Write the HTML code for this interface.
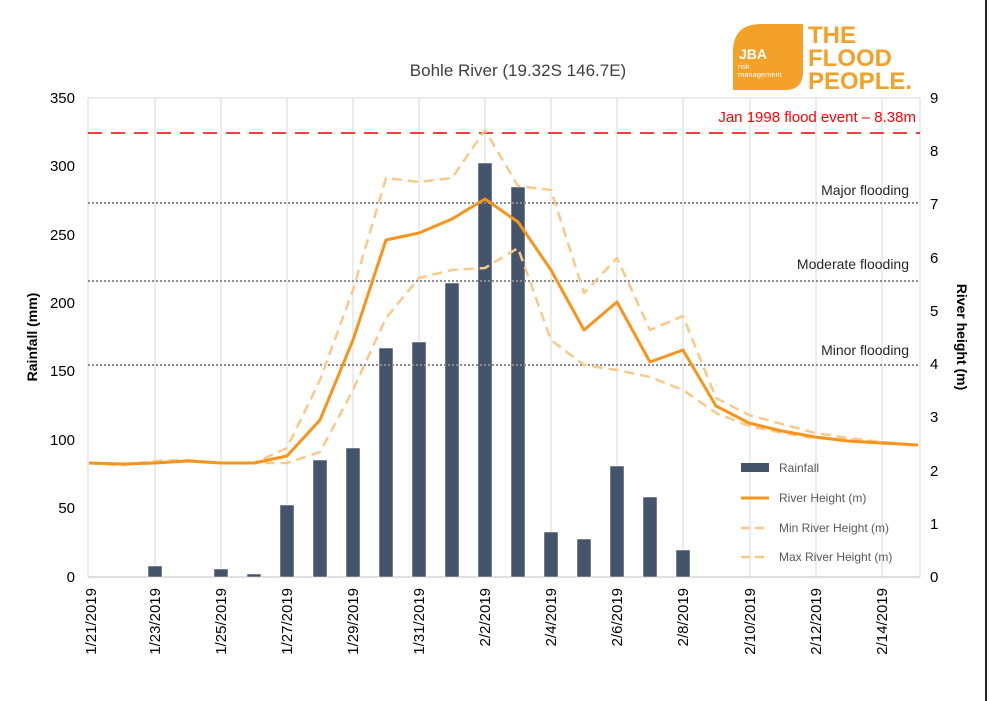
<!DOCTYPE html>
<html><head><meta charset="utf-8"><style>
body{margin:0;background:#fff;}
svg{display:block;font-family:"Liberation Sans",sans-serif;}
</style></head><body>
<svg width="990" height="701" viewBox="0 0 990 701">
<rect x="0" y="0" width="990" height="701" fill="#fff"/>
<line x1="986" y1="0" x2="986" y2="701" stroke="#222" stroke-width="2"/>
<!-- logo -->
<path d="M733 90 V52 Q733 24 761 24 H803 V72 Q803 90 785 90 Z" fill="#f4a12a"/>
<text x="739" y="59" font-size="14" font-weight="bold" fill="#fff">JBA</text>
<text x="738" y="69" font-size="7.5" fill="#fff">risk</text>
<text x="738" y="77" font-size="7.5" fill="#fff">management</text>
<g font-size="24" font-weight="bold" fill="#f4a12a">
<text x="808" y="43">THE</text>
<text x="808" y="66">FLOOD</text>
<text x="808" y="89">PEOPLE.</text>
</g>
<text x="518" y="76" font-size="17" fill="#404040" text-anchor="middle">Bohle River (19.32S 146.7E)</text>
<!-- grid -->
<g stroke="#d9d9d9" stroke-width="1">
<line x1="88" y1="98" x2="920" y2="98"/>
<line x1="155" y1="98" x2="155" y2="577"/><line x1="221" y1="98" x2="221" y2="577"/>
<line x1="287" y1="98" x2="287" y2="577"/><line x1="353" y1="98" x2="353" y2="577"/>
<line x1="419" y1="98" x2="419" y2="577"/><line x1="485" y1="98" x2="485" y2="577"/>
<line x1="551" y1="98" x2="551" y2="577"/><line x1="617" y1="98" x2="617" y2="577"/>
<line x1="683" y1="98" x2="683" y2="577"/><line x1="750" y1="98" x2="750" y2="577"/>
<line x1="816" y1="98" x2="816" y2="577"/><line x1="882" y1="98" x2="882" y2="577"/>
<line x1="920" y1="98" x2="920" y2="577"/>
<line x1="88" y1="98" x2="88" y2="577"/>
</g>
<line x1="88" y1="577" x2="920" y2="577" stroke="#bfbfbf"/>
<!-- left ticks -->
<g font-size="15" fill="#000" text-anchor="end">
<text x="75" y="103">350</text><text x="75" y="171">300</text><text x="75" y="240">250</text>
<text x="75" y="308">200</text><text x="75" y="376">150</text><text x="75" y="445">100</text>
<text x="75" y="513">50</text><text x="75" y="582">0</text>
</g>
<g font-size="15" fill="#000">
<text x="930" y="103">9</text><text x="930" y="156">8</text><text x="930" y="209">7</text>
<text x="930" y="263">6</text><text x="930" y="316">5</text><text x="930" y="369">4</text>
<text x="930" y="422">3</text><text x="930" y="476">2</text><text x="930" y="529">1</text>
<text x="930" y="582">0</text>
</g>
<text transform="translate(37,337) rotate(-90)" font-size="14" font-weight="bold" text-anchor="middle">Rainfall (mm)</text>
<text transform="translate(957,337) rotate(90)" font-size="14" font-weight="bold" text-anchor="middle">River height (m)</text>
<!-- x labels -->
<g font-size="15" text-anchor="end">
<text transform="translate(96,588) rotate(-90)">1/21/2019</text>
<text transform="translate(160,588) rotate(-90)">1/23/2019</text>
<text transform="translate(226,588) rotate(-90)">1/25/2019</text>
<text transform="translate(292,588) rotate(-90)">1/27/2019</text>
<text transform="translate(358,588) rotate(-90)">1/29/2019</text>
<text transform="translate(424,588) rotate(-90)">1/31/2019</text>
<text transform="translate(490,588) rotate(-90)">2/2/2019</text>
<text transform="translate(556,588) rotate(-90)">2/4/2019</text>
<text transform="translate(622,588) rotate(-90)">2/6/2019</text>
<text transform="translate(688,588) rotate(-90)">2/8/2019</text>
<text transform="translate(755,588) rotate(-90)">2/10/2019</text>
<text transform="translate(821,588) rotate(-90)">2/12/2019</text>
<text transform="translate(887,588) rotate(-90)">2/14/2019</text>
</g>
<!-- bars -->
<g fill="#44546a" stroke="#fff" stroke-width="0.5">
<rect x="148" y="566" width="14" height="11"/>
<rect x="214" y="569" width="14" height="8"/>
<rect x="247" y="574" width="14" height="3"/>
<rect x="280" y="505" width="14" height="72"/>
<rect x="313" y="460" width="14" height="117"/>
<rect x="346" y="448" width="14" height="129"/>
<rect x="379" y="348" width="14" height="229"/>
<rect x="412" y="342" width="14" height="235"/>
<rect x="445" y="283" width="14" height="294"/>
<rect x="478" y="163" width="14" height="414"/>
<rect x="511" y="187" width="14" height="390"/>
<rect x="544" y="532" width="14" height="45"/>
<rect x="577" y="539" width="14" height="38"/>
<rect x="610" y="466" width="14" height="111"/>
<rect x="643" y="497" width="14" height="80"/>
<rect x="676" y="550" width="14" height="27"/>
</g>
<!-- flood lines -->
<line x1="88" y1="133" x2="920" y2="133" stroke="#ff3b3b" stroke-width="2" stroke-dasharray="14,9"/>
<text x="916" y="122" font-size="15" fill="#ff0000" text-anchor="end">Jan 1998 flood event – 8.38m</text>
<g stroke="#8c8c8c" stroke-width="2" stroke-dasharray="2,2">
<line x1="88" y1="203" x2="920" y2="203"/>
<line x1="88" y1="281" x2="920" y2="281"/>
<line x1="88" y1="365" x2="920" y2="365"/>
</g>
<g font-size="14" fill="#262626" text-anchor="end">
<text x="909" y="195">Major flooding</text>
<text x="909" y="269">Moderate flooding</text>
<text x="909" y="355">Minor flooding</text>
</g>
<!-- series -->
<g fill="none" stroke-linejoin="round">
<polyline stroke="#f9c98a" stroke-width="2.5" stroke-dasharray="10,6" points="89,463 122,465 155,461 188,460 221,463 254,463 287,448 320,380 353,290 386,178 419,182 452,178 485,130 518,186 551,190 584,293 617,258 650,330 683,316 716,398 749,415 782,424 815,433 848,438 881,442 918,445"/>
<polyline stroke="#f9c98a" stroke-width="2.5" stroke-dasharray="10,6" points="89,463 122,465 155,462 188,461 221,463 254,463 287,463 320,452 353,390 386,318 419,278 452,270 485,268 518,248 551,340 584,365 617,370 650,377 683,390 716,413 749,426 782,433 815,438 848,440 881,442 918,445"/>
<polyline stroke="#f7941d" stroke-width="3" points="89,463 122,464 155,463 188,461 221,463 254,463 287,456 320,420 353,340 386,240 419,233 452,219 485,199 518,222 551,270 584,330 617,302 650,362 683,350 716,406 749,423 782,431 815,437 848,441 881,443 918,445"/>
</g>
<!-- legend -->
<rect x="741" y="463" width="28" height="9" fill="#44546a"/>
<text x="779" y="472" font-size="12" fill="#595959">Rainfall</text>
<line x1="741" y1="498" x2="769" y2="498" stroke="#f7941d" stroke-width="3"/>
<text x="779" y="502" font-size="12" fill="#595959">River Height (m)</text>
<line x1="741" y1="528" x2="769" y2="528" stroke="#f9c98a" stroke-width="2.5" stroke-dasharray="9,5"/>
<text x="779" y="532" font-size="12" fill="#595959">Min River Height (m)</text>
<line x1="741" y1="557" x2="769" y2="557" stroke="#f9c98a" stroke-width="2.5" stroke-dasharray="9,5"/>
<text x="779" y="561" font-size="12" fill="#595959">Max River Height (m)</text>
</svg>
</body></html>
